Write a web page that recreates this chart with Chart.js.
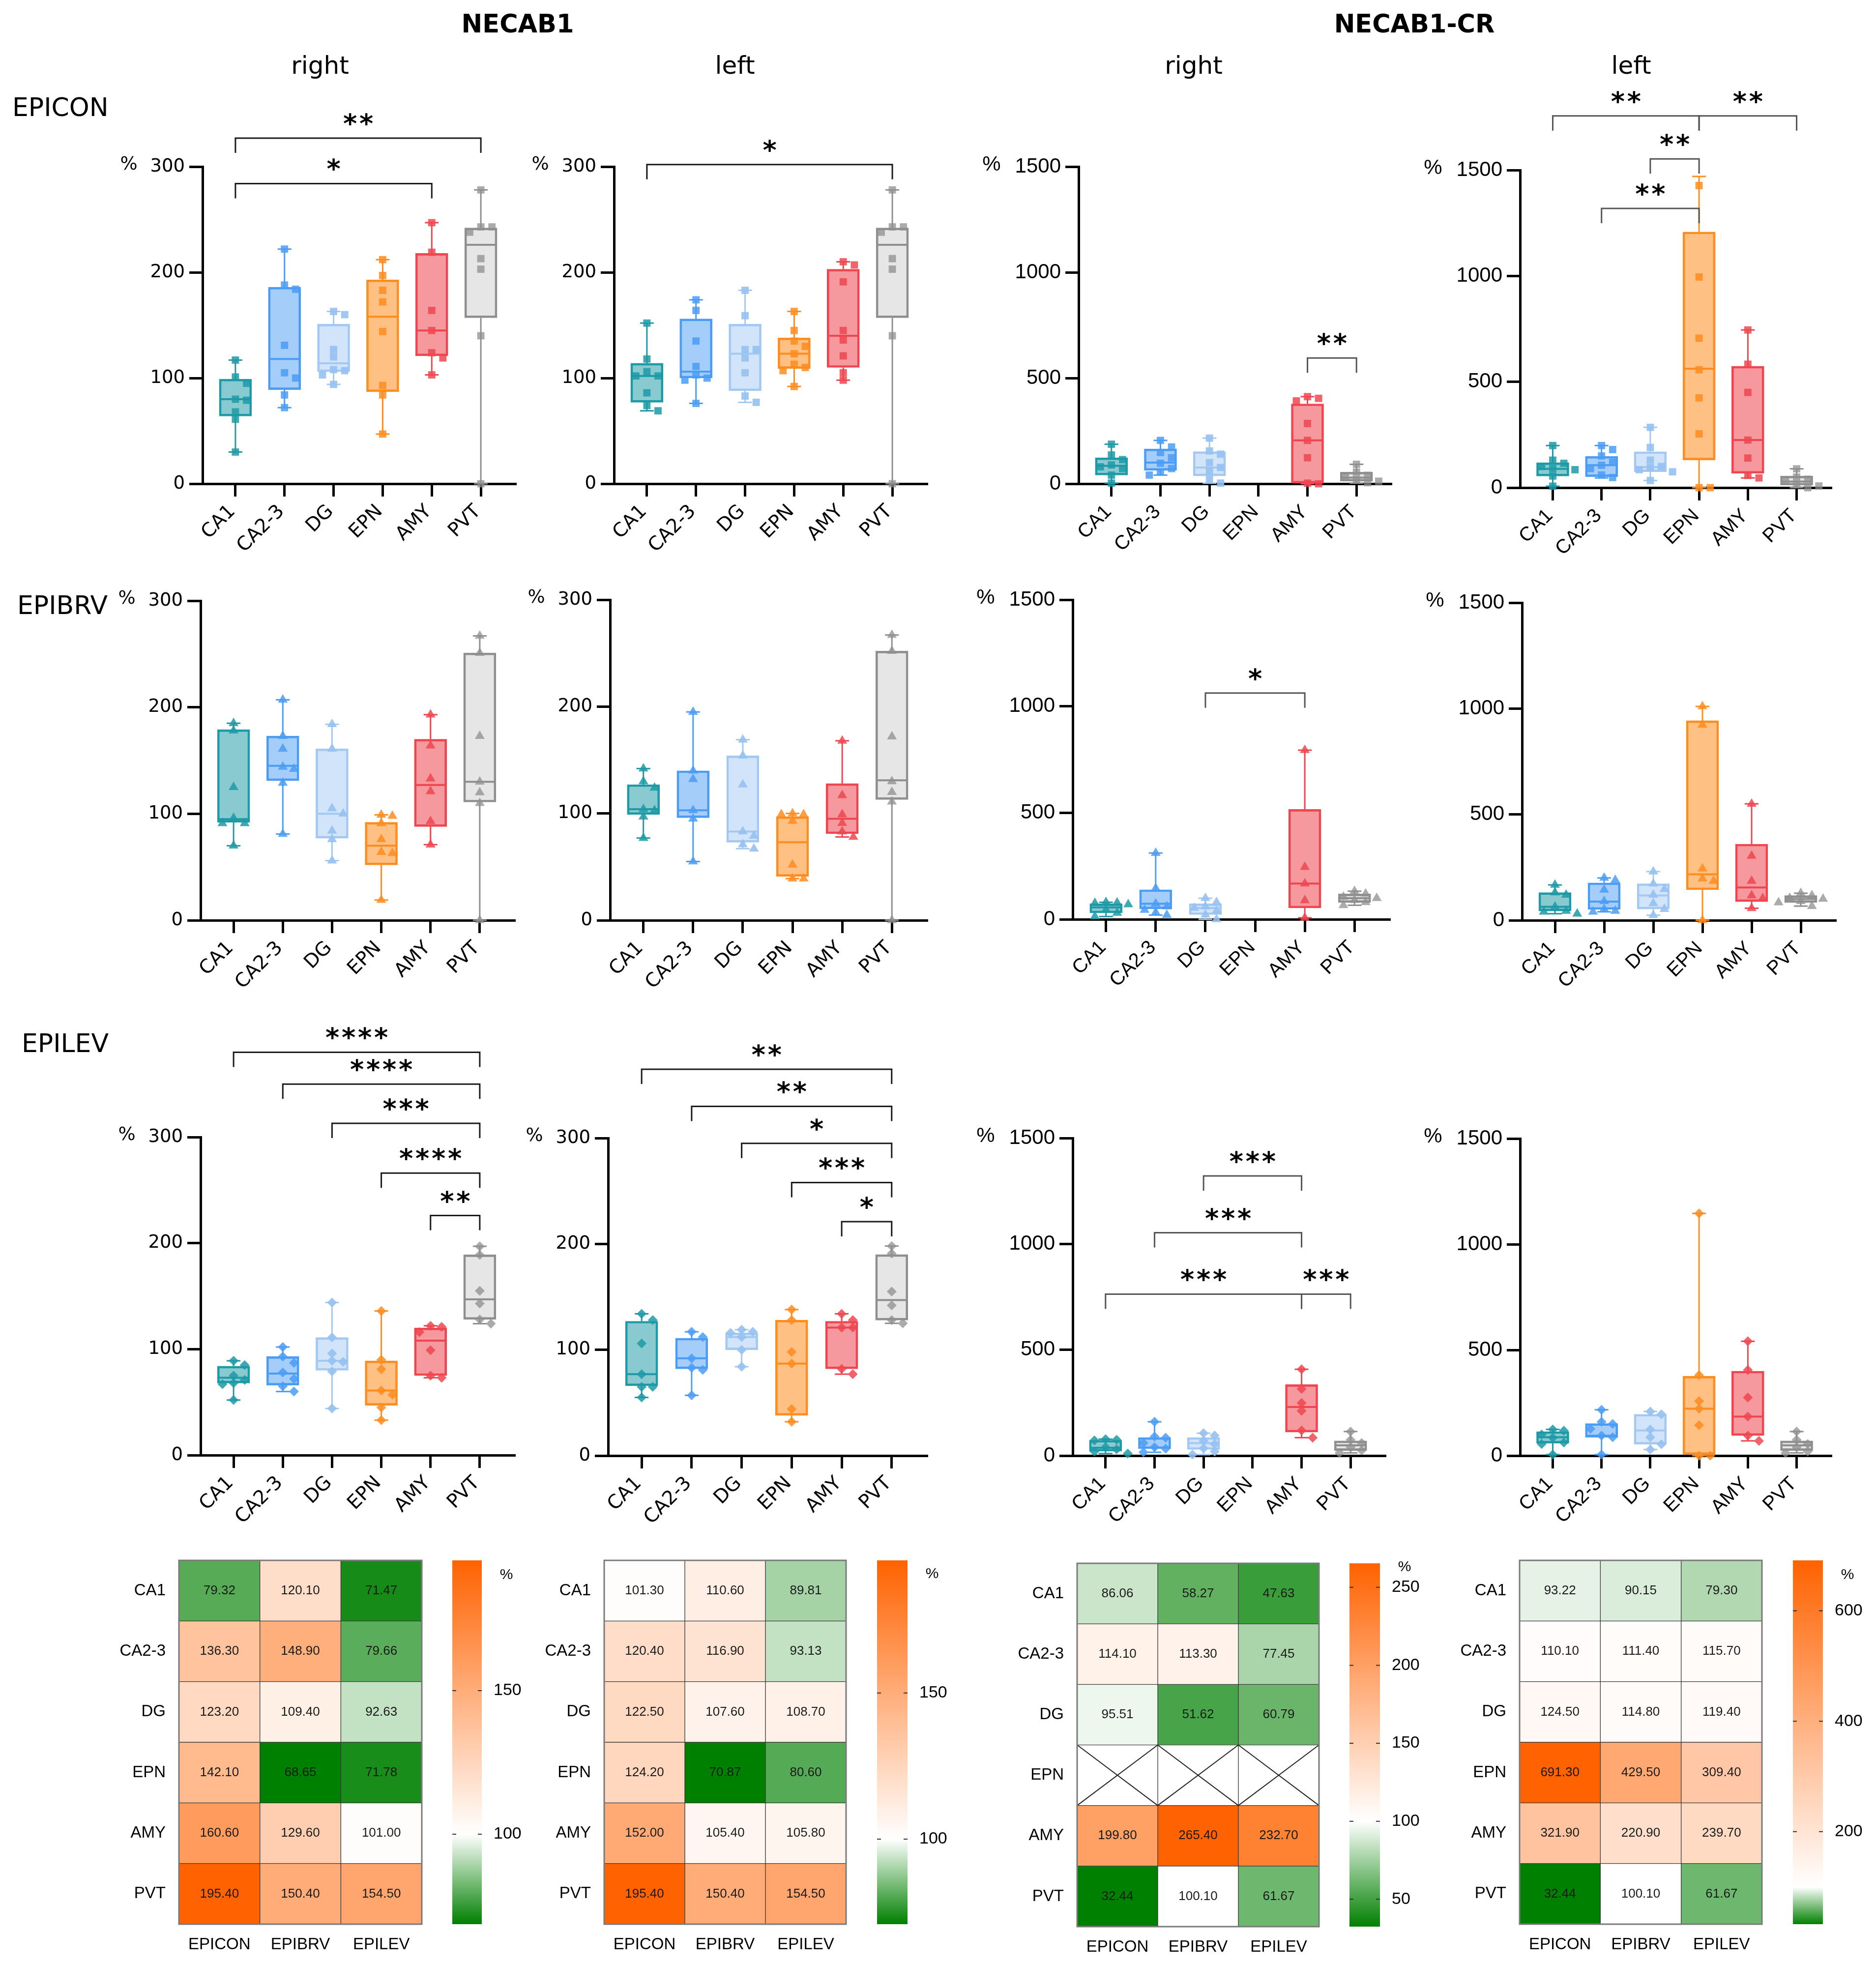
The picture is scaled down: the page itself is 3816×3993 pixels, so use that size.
<!DOCTYPE html>
<html>
<head>
<meta charset="utf-8">
<title>NECAB1 / NECAB1-CR</title>
<script src="https://cdn.jsdelivr.net/npm/chart.js"></script>
<style>
  html, body { margin:0; padding:0; background:#ffffff; }
  body { position:relative; width:3816px; height:3993px; overflow:hidden; }
  canvas { position:absolute; }
  .lbl { position:absolute; white-space:nowrap; color:#000; }
</style>
</head>
<body>
<script>
// ---------------- categories and tick labels ----------------
const regions = ['CA1', 'CA2-3', 'DG', 'EPN', 'AMY', 'PVT'];
const conditions = ['EPICON', 'EPIBRV', 'EPILEV'];
const ticks300 = [0, 100, 200, 300];
const ticks1500 = [0, 500, 1000, 1500];

// ---------------- box plots: [min, q1, median, q3, max] per region ----------------
// NECAB1 right, EPICON
const p11Box = [[30,64,80,99,117],[72,89,118,186,222],[94,106,114,151,163],[47,87,158,193,212],[103,121,145,218,247],[0,157,226,242,278]];
const p11Pts = [[117,101,95,80,79,68,61,30],[222,188,184,131,105,100,84,72],[163,160,127,120,108,107,103,94],[212,197,183,172,144,93,84,47],[247,219,164,145,124,119,103],[278,243,243,238,213,203,140,0]];
const p11Sig = [[0,5,'**'],[0,4,'*']];
const p11Lvl = [327,284];
// NECAB1 left, EPICON
const p12Box = [[69,77,102,114,152],[76,100,106,156,174],[77,88,123,151,183],[92,109,123,138,163],[98,110,140,203,210],[0,157,226,242,278]];
const p12Pts = [[152,118,106,102,102,86,74,69],[174,164,135,111,103,100,98,76],[183,159,127,127,119,105,83,77],[163,145,135,130,123,113,110,107,92],[210,207,191,145,136,121,105,98],[278,243,243,238,213,203,140,0]];
const p12Sig = [[0,5,'*']];
const p12Lvl = [302];
// NECAB1-CR right, EPICON
const p13Box = [[3,41,85,123,187],[41,63,100,165,205],[3,37,77,152,216],null,[0,3,205,378,412],[3,12,29,55,92]];
const p13Pts = [[187,136,114,89,80,72,41,3],[205,174,148,123,97,72,55,41],[216,155,140,100,77,60,20,3],[],[412,404,392,285,205,123,3,0],[92,55,40,30,20,12,5]];
const p13Sig = [[4,5,'**']];
const p13Lvl = [595];
// NECAB1-CR left, EPICON
const p14Box = [[7,55,89,118,199],[46,52,106,148,199],[34,75,97,170,285],[0,131,562,1208,1470],[46,68,225,574,745],[0,12,29,55,89]];
const p14Pts = [[199,130,115,100,90,85,55,7],[199,180,150,120,106,90,60,48],[285,190,130,100,95,85,75,34],[1427,995,706,557,424,254,0,0],[745,583,450,225,140,58,46],[89,50,40,30,15,8,0]];
const p14Sig = [[0,3,'**'],[3,5,'**'],[2,3,'**'],[1,3,'**']];
const p14Lvl = [1756,1756,1553,1319];
// NECAB1 right, EPIBRV
const p21Box = [[70,92,95,179,185],[81,131,145,173,207],[56,77,100,161,184],[19,52,70,92,99],[71,88,127,170,193],[0,111,130,251,267]];
const p21Pts = [[185,178,125,96,91,91,70],[207,173,161,144,142,129,81],[184,161,105,100,84,76,56],[99,98,91,76,64,63,19],[193,164,133,121,93,71],[267,251,173,130,120,110,0]];
const p21Sig = [];
const p21Lvl = [];
// NECAB1 left, EPIBRV
const p22Box = [[77,99,104,127,142],[55,96,103,140,195],[67,73,83,154,169],[39,41,73,97,100],[78,81,95,128,168],[0,113,131,252,267]];
const p22Pts = [[142,130,124,104,103,97,77],[195,140,132,103,95,55],[169,154,127,83,79,71,67],[100,99,99,93,52,39,39],[168,117,99,91,83,78],[267,252,172,130,120,111,0]];
const p22Sig = [];
const p22Lvl = [];
// NECAB1-CR right, EPIBRV
const p23Box = [[13,30,56,73,80],[20,49,73,139,311],[0,22,53,73,99],null,[7,53,168,516,794],[66,79,99,119,132]];
const p23Pts = [[80,78,76,70,45,30,13],[311,146,73,60,44,33,20],[99,80,60,53,40,22,0],[],[794,245,168,89,7],[132,120,105,99,90,80,66]];
const p23Sig = [[2,4,'*']];
const p23Lvl = [1062];
// NECAB1-CR left, EPIBRV
const p24Box = [[31,44,64,131,167],[40,51,88,177,200],[24,53,117,173,230],[0,144,217,943,1010],[57,88,155,360,550],[67,84,101,117,128]];
const p24Pts = [[167,131,120,64,44,40,31],[200,190,144,90,53,44,40],[230,173,147,120,80,53,24],[1010,923,244,197,186,0],[550,304,186,117,104,57],[128,117,105,101,90,84,67]];
const p24Sig = [];
const p24Lvl = [];
// NECAB1 right, EPILEV
const p31Box = [[52,68,73,84,89],[60,66,77,93,102],[44,80,89,111,144],[33,47,61,89,136],[73,75,108,120,122],[124,128,147,189,197]];
const p31Pts = [[89,85,75,71,68,67,52],[102,93,87,78,72,65,60],[144,111,96,89,88,79,44],[136,90,81,61,57,45,33],[122,121,116,99,75,73],[197,189,155,143,128,124]];
const p31Sig = [[0,5,'****'],[1,5,'****'],[2,5,'***'],[3,5,'****'],[4,5,'**']];
const p31Lvl = [380,350,313,266,226];
// NECAB1 left, EPILEV
const p32Box = [[55,66,77,127,134],[57,82,92,111,117],[84,100,112,116,119],[32,38,87,128,138],[77,82,121,127,134],[125,128,147,190,198]];
const p32Pts = [[134,128,106,77,65,65,55],[117,112,92,83,81,57],[119,117,116,112,100,84],[138,128,98,87,44,32],[134,128,121,121,82,77],[198,191,155,142,128,125]];
const p32Sig = [[0,5,'**'],[1,5,'**'],[2,5,'*'],[3,5,'***'],[4,5,'*']];
const p32Lvl = [365,330,295,258,221];
// NECAB1-CR right, EPILEV
const p33Box = [[10,21,37,73,78],[16,33,37,86,160],[5,29,59,86,106],null,[85,111,230,336,408],[13,24,49,70,114]];
const p33Pts = [[78,75,72,40,30,20,10],[160,90,85,60,40,33,16],[106,95,70,55,35,20,5],[],[408,315,249,212,119,85],[114,75,60,40,25,13]];
const p33Sig = [[2,4,'***'],[1,4,'***'],[0,4,'***'],[4,5,'***']];
const p33Lvl = [1321,1053,763,763];
// NECAB1-CR left, EPILEV
const p34Box = [[5,59,87,114,124],[5,87,95,152,217],[29,54,119,196,209],[0,0,222,376,1146],[70,95,185,400,541],[13,24,49,70,114]];
const p34Pts = [[124,118,100,85,62,55,5],[217,160,150,127,95,87,5],[209,196,124,87,54,29],[1146,381,258,222,144,0,0],[541,405,275,185,95,70],[114,75,55,40,20,13]];
const p34Sig = [];
const p34Lvl = [];

// ---------------- heat maps (mean %, rows = regions) ----------------
const h1Con = [79.32, 136.30, 123.20, 142.10, 160.60, 195.40];
const h1Brv = [120.10, 148.90, 109.40, 68.65, 129.60, 150.40];
const h1Lev = [71.47, 79.66, 92.63, 71.78, 101.00, 154.50];
const h2Con = [101.30, 120.40, 122.50, 124.20, 152.00, 195.40];
const h2Brv = [110.60, 116.90, 107.60, 70.87, 105.40, 150.40];
const h2Lev = [89.81, 93.13, 108.70, 80.60, 105.80, 154.50];
const h3Con = [86.06, 114.10, 95.51, null, 199.80, 32.44];
const h3Brv = [58.27, 113.30, 51.62, null, 265.40, 100.10];
const h3Lev = [47.63, 77.45, 60.79, null, 232.70, 61.67];
const h4Con = [93.22, 110.10, 124.50, 691.30, 321.90, 32.44];
const h4Brv = [90.15, 111.40, 114.80, 429.50, 220.90, 100.10];
const h4Lev = [79.30, 115.70, 119.40, 309.40, 239.70, 61.67];
const h1Ticks = [100, 150];
const h2Ticks = [100, 150];
const h3Ticks = [50, 100, 150, 200, 250];
const h4Ticks = [200, 400, 600];

// ---------------- styles ----------------
const DEJA = "'DejaVu Sans', Verdana, sans-serif";
const LIB = "'Liberation Sans', Arial, sans-serif";
Chart.defaults.font.family = LIB;
const regionLine = ['#1d9aa6', '#4b9cf5', '#a3c9f3', '#ff8c1f', '#ee4650', '#8f8f8f'];
const regionFill = ['rgba(29,154,166,0.52)', 'rgba(75,156,245,0.5)', 'rgba(163,201,243,0.5)', 'rgba(255,140,31,0.55)', 'rgba(238,70,80,0.55)', 'rgba(143,143,143,0.22)'];
const regionDot = ['rgba(29,154,166,0.85)', 'rgba(75,156,245,0.85)', 'rgba(150,193,241,0.9)', 'rgba(255,140,31,0.85)', 'rgba(238,70,80,0.85)', 'rgba(143,143,143,0.75)'];
const markerStyle = ['rect', 'triangle', 'rectRot'];
const markerRadius = [10.5, 11.5, 10];
const GREEN = [0, 128, 0], ORANGE = [255, 98, 0];

// panel placement (chart area in page pixels)
const panels = [
  { box:p11Box, pts:p11Pts, sig:p11Sig, lvl:p11Lvl, cond:0, yTicks:ticks300,  grp:0, left:412,  right:1059, top:339,  bottom:984 },
  { box:p12Box, pts:p12Pts, sig:p12Sig, lvl:p12Lvl, cond:0, yTicks:ticks300,  grp:0, left:1249, right:1896, top:339,  bottom:984 },
  { box:p13Box, pts:p13Pts, sig:p13Sig, lvl:p13Lvl, cond:0, yTicks:ticks1500, grp:1, left:2194, right:2840, top:339,  bottom:984 },
  { box:p14Box, pts:p14Pts, sig:p14Sig, lvl:p14Lvl, cond:0, yTicks:ticks1500, grp:1, left:3092, right:3735, top:346,  bottom:992 },
  { box:p21Box, pts:p21Pts, sig:p21Sig, lvl:p21Lvl, cond:1, yTicks:ticks300,  grp:0, left:408,  right:1057, top:1222, bottom:1872 },
  { box:p22Box, pts:p22Pts, sig:p22Sig, lvl:p22Lvl, cond:1, yTicks:ticks300,  grp:0, left:1241, right:1896, top:1220, bottom:1872 },
  { box:p23Box, pts:p23Pts, sig:p23Sig, lvl:p23Lvl, cond:1, yTicks:ticks1500, grp:1, left:2182, right:2837, top:1220, bottom:1870 },
  { box:p24Box, pts:p24Pts, sig:p24Sig, lvl:p24Lvl, cond:1, yTicks:ticks1500, grp:1, left:3096, right:3744, top:1226, bottom:1872 },
  { box:p31Box, pts:p31Pts, sig:p31Sig, lvl:p31Lvl, cond:2, yTicks:ticks300,  grp:0, left:408,  right:1057, top:2313, bottom:2960 },
  { box:p32Box, pts:p32Pts, sig:p32Sig, lvl:p32Lvl, cond:2, yTicks:ticks300,  grp:0, left:1237, right:1896, top:2315, bottom:2961 },
  { box:p33Box, pts:p33Pts, sig:p33Sig, lvl:p33Lvl, cond:2, yTicks:ticks1500, grp:1, left:2182, right:2828, top:2315, bottom:2961 },
  { box:p34Box, pts:p34Pts, sig:p34Sig, lvl:p34Lvl, cond:2, yTicks:ticks1500, grp:1, left:3092, right:3735, top:2316, bottom:2961 }
];
const heatmaps = [
  { vals:[h1Con, h1Brv, h1Lev], ticks:h1Ticks, left:364,  right:858,  top:3174, bottom:3914, cbL:920,  cbR:980,  pctDy:30 },
  { vals:[h2Con, h2Brv, h2Lev], ticks:h2Ticks, left:1229, right:1721, top:3174, bottom:3914, cbL:1784, cbR:1846, pctDy:28 },
  { vals:[h3Con, h3Brv, h3Lev], ticks:h3Ticks, left:2191, right:2683, top:3180, bottom:3919, cbL:2745, cbR:2807, pctDy:8 },
  { vals:[h4Con, h4Brv, h4Lev], ticks:h4Ticks, left:3091, right:3584, top:3174, bottom:3914, cbL:3647, cbR:3708, pctDy:30 }
];
const X_MIN = -0.67, X_MAX = 5.7;

// ---------------- helpers ----------------
function addText(txt, x, baseline, size, family, weight, align) {
  const d = document.createElement('div');
  d.className = 'lbl';
  d.textContent = txt;
  d.style.font = (weight || 'normal') + ' ' + size + 'px ' + family;
  d.style.lineHeight = size + 'px';
  d.style.top = (baseline - 0.846 * size) + 'px';
  d.style.left = x + 'px';
  if (align === 'center') d.style.transform = 'translateX(-50%)';
  document.body.appendChild(d);
}
function makeCanvas(left, top, w, h) {
  const cv = document.createElement('canvas');
  cv.width = Math.round(w); cv.height = Math.round(h);
  cv.style.left = Math.round(left) + 'px'; cv.style.top = Math.round(top) + 'px';
  cv.style.width = Math.round(w) + 'px'; cv.style.height = Math.round(h) + 'px';
  document.body.appendChild(cv);
  return cv;
}
// deterministic dot arrangement so that overlapping dots sit side by side
function swarm(vals, ci, unitsPerPxY, unitsPerPxX) {
  const sepY = 15 * unitsPerPxY, stepX = 23 * unitsPerPxX;
  const placed = [];
  vals.slice().sort((a, b) => b - a).forEach(v => {
    let off = 0;
    for (let k = 0; k < 12; k++) {
      const cand = k === 0 ? 0 : (k % 2 === 1 ? 1 : -1) * Math.ceil(k / 2) * stepX;
      const clash = placed.some(q => Math.abs(q.off - cand) < stepX * 0.5 && Math.abs(q.v - v) < sepY);
      if (!clash) { off = cand; break; }
    }
    placed.push({ v, off });
  });
  return placed.map(q => ({ x: ci + q.off, y: q.v }));
}
function mix(c, t) {
  t = Math.max(0, Math.min(1, t));
  return 'rgb(' + Math.round(255 + (c[0] - 255) * t) + ',' + Math.round(255 + (c[1] - 255) * t) + ',' + Math.round(255 + (c[2] - 255) * t) + ')';
}
function heatColor(v, mn, mx) {
  if (v == null) return '#ffffff';
  return v < 100 ? mix(GREEN, (100 - v) / (100 - mn)) : mix(ORANGE, (v - 100) / (mx - 100));
}

// ---------------- box plot panel ----------------
function drawDecor(ch, P) {
  const { ctx, scales: { x, y } } = ch;
  const fam = P.grp === 0 ? DEJA : LIB;
  const fs = P.grp === 0 ? 37 : 42;
  ctx.save();
  ctx.fillStyle = '#000';
  ctx.font = fs + 'px ' + fam;
  ctx.textAlign = 'center';
  ctx.textBaseline = 'middle';
  ctx.fillText('%', x.left - (P.grp === 0 ? 150 : 177), y.top - 4);
  ctx.strokeStyle = P.grp === 0 ? '#1a1a1a' : '#555555';
  ctx.lineWidth = 3;
  P.sig.forEach((s, k) => {
    const xa = x.getPixelForValue(s[0]), xb = x.getPixelForValue(s[1]);
    const yl = y.getPixelForValue(P.lvl[k]);
    ctx.beginPath();
    ctx.moveTo(xa, yl + 30); ctx.lineTo(xa, yl); ctx.lineTo(xb, yl); ctx.lineTo(xb, yl + 30);
    ctx.stroke();
    const n = s[2].length, cx = (xa + xb) / 2;
    ctx.font = 'bold 54px ' + DEJA;
    ctx.textBaseline = 'alphabetic';
    ctx.fillStyle = '#000';
    for (let i = 0; i < n; i++) ctx.fillText('*', cx + (i - (n - 1) / 2) * 33, yl - 40 + 29);
  });
  ctx.restore();
}

function makeBoxPanel(P) {
  const padL = 220, padR = 24, padT = 330, xH = 175, yW = 140;
  const cv = makeCanvas(P.left - padL, P.top - padT, P.right - P.left + padL + padR, P.bottom - P.top + padT + xH);
  const yMax = P.yTicks[P.yTicks.length - 1];
  const upyY = yMax / (P.bottom - P.top);
  const upxX = (X_MAX - X_MIN) / (P.right - P.left);
  const fam = P.grp === 0 ? DEJA : LIB;
  const yFs = P.grp === 0 ? 37 : 42, xFs = P.grp === 0 ? 39 : 40;

  const dots = [], dotCol = [];
  P.pts.forEach((vals, ci) => swarm(vals, ci, upyY, upxX).forEach(p => { dots.push(p); dotCol.push(regionDot[ci]); }));
  const meds = [], medCol = [], caps = [], capCol = [], boxes = [], boxFillC = [], boxLineC = [];
  const datasets = [];
  P.box.forEach((b, ci) => {
    if (!b) return;
    meds.push({ x: ci, y: b[2] }); medCol.push(regionLine[ci]);
    caps.push({ x: ci, y: b[0] }, { x: ci, y: b[4] }); capCol.push(regionLine[ci], regionLine[ci]);
    boxes.push({ x: ci, y: [b[1], b[3]] }); boxFillC.push(regionFill[ci]); boxLineC.push(regionLine[ci]);
    datasets.push({
      type: 'line', order: 6, clip: false,
      data: [{ x: ci, y: b[4] }, { x: ci, y: b[3] }, { x: ci, y: null }, { x: ci, y: b[1] }, { x: ci, y: b[0] }],
      borderColor: regionLine[ci], borderWidth: 3, pointRadius: 0, spanGaps: false, fill: false
    });
  });
  datasets.push({ type: 'bar', order: 5, clip: false, data: boxes, backgroundColor: boxFillC, borderColor: boxLineC,
                  borderWidth: 4, borderSkipped: false, barThickness: 66 });
  datasets.push({ type: 'scatter', order: 4, clip: false, data: meds, pointStyle: 'line', pointRadius: 31,
                  pointBorderColor: medCol, pointBorderWidth: 4, pointBackgroundColor: medCol });
  datasets.push({ type: 'scatter', order: 3, clip: false, data: caps, pointStyle: 'line', pointRadius: 14,
                  pointBorderColor: capCol, pointBorderWidth: 3, pointBackgroundColor: capCol });
  datasets.push({ type: 'scatter', order: 1, clip: false, data: dots, pointStyle: markerStyle[P.cond],
                  pointRadius: markerRadius[P.cond], pointBackgroundColor: dotCol, pointBorderWidth: 0 });

  new Chart(cv, {
    type: 'bar',
    data: { datasets },
    options: {
      responsive: false, animation: false, devicePixelRatio: 1, events: [],
      layout: { padding: { left: padL - yW, right: padR, top: padT, bottom: 0 } },
      plugins: { legend: { display: false }, tooltip: { enabled: false } },
      scales: {
        x: {
          type: 'linear', min: X_MIN, max: X_MAX, offset: false,
          afterBuildTicks: s => { s.ticks = regions.map((_, i) => ({ value: i })); },
          afterFit: s => { s.height = xH; },
          grid: { display: true, drawOnChartArea: false, drawTicks: true, tickLength: 26, color: '#000', lineWidth: 5, offset: false },
          border: { display: true, color: '#000', width: 5 },
          ticks: { autoSkip: false, minRotation: 45, maxRotation: 45, padding: 8, labelOffset: -6, color: '#000',
                   font: { family: fam, size: xFs }, callback: v => regions[v] }
        },
        y: {
          type: 'linear', min: 0, max: yMax,
          afterBuildTicks: s => { s.ticks = P.yTicks.map(v => ({ value: v })); },
          afterFit: s => { s.width = yW; },
          grid: { display: true, drawOnChartArea: false, drawTicks: true, tickLength: 27, color: '#000', lineWidth: 5 },
          border: { display: true, color: '#000', width: 5 },
          ticks: { padding: 9, color: '#000', font: { family: fam, size: yFs }, callback: v => String(v) }
        }
      }
    },
    plugins: [{ id: 'deco', afterDraw: ch => drawDecor(ch, P) }]
  });
}

// ---------------- heat map + colour bar ----------------
function drawCells(ch, H) {
  const ctx = ch.ctx;
  ctx.save();
  ctx.font = '26px ' + LIB;
  ctx.textAlign = 'center';
  ctx.textBaseline = 'middle';
  ch.data.datasets.forEach((ds, j) => {
    ch.getDatasetMeta(j).data.forEach((bar, i) => {
      const p = bar.getProps(['x', 'y', 'base', 'height'], true);
      const v = H.vals[j][i];
      const x0 = Math.min(p.x, p.base), x1 = Math.max(p.x, p.base);
      const y0 = p.y - p.height / 2, y1 = p.y + p.height / 2;
      if (v == null) {
        ctx.strokeStyle = '#222'; ctx.lineWidth = 2;
        ctx.beginPath(); ctx.moveTo(x0, y0); ctx.lineTo(x1, y1); ctx.moveTo(x1, y0); ctx.lineTo(x0, y1); ctx.stroke();
      } else {
        ctx.fillStyle = '#1a1a1a';
        ctx.fillText(v.toFixed(2), (x0 + x1) / 2, p.y);
      }
    });
  });
  const a = ch.chartArea;
  ctx.strokeStyle = '#7a7a7a'; ctx.lineWidth = 3;
  ctx.strokeRect(a.left, a.top, a.right - a.left, a.bottom - a.top);
  ctx.restore();
}
function gradientFor(chart, mn, mx) {
  const ys = chart.scales && chart.scales.y;
  if (!chart.chartArea || !ys) return '#ffffff';
  const y0 = ys.getPixelForValue(mn), y1 = ys.getPixelForValue(mx);
  if (!isFinite(y0) || !isFinite(y1)) return '#ffffff';
  const g = chart.ctx.createLinearGradient(0, y0, 0, y1);
  g.addColorStop(0, mix(GREEN, 1));
  g.addColorStop((100 - mn) / (mx - mn), '#ffffff');
  g.addColorStop(1, mix(ORANGE, 1));
  return g;
}
function makeColorbar(H, mn, mx) {
  const yW = 130, pad = 60;
  const cv = makeCanvas(H.cbL, H.top - pad, H.cbR - H.cbL + yW, H.bottom - H.top + 2 * pad);
  new Chart(cv, {
    type: 'bar',
    data: { labels: ['%'], datasets: [{ data: [[mn, mx]], backgroundColor: c => gradientFor(c.chart, mn, mx),
                                        borderWidth: 0, barPercentage: 1, categoryPercentage: 1 }] },
    options: {
      responsive: false, animation: false, devicePixelRatio: 1, events: [],
      layout: { padding: { top: pad, bottom: pad, left: 0, right: 0 } },
      plugins: { legend: { display: false }, tooltip: { enabled: false } },
      scales: {
        x: { display: false },
        y: {
          position: 'right', min: mn, max: mx,
          afterBuildTicks: s => { s.ticks = H.ticks.map(v => ({ value: v })); },
          afterFit: s => { s.width = yW; },
          grid: { display: false, drawTicks: false }, border: { display: false },
          ticks: { padding: 24, color: '#000', font: { family: LIB, size: 34 }, callback: v => String(v) }
        }
      }
    },
    plugins: [{ id: 'cbdeco', afterDraw: ch => {
      const { ctx, chartArea: a, scales: { y } } = ch;
      ctx.save();
      ctx.strokeStyle = '#333'; ctx.lineWidth = 2;
      H.ticks.forEach(v => {
        const py = y.getPixelForValue(v);
        ctx.beginPath();
        ctx.moveTo(a.left, py); ctx.lineTo(a.left + 8, py);
        ctx.moveTo(a.right - 8, py); ctx.lineTo(a.right, py);
        ctx.stroke();
      });
      ctx.fillStyle = '#000'; ctx.font = '30px ' + LIB; ctx.textAlign = 'center'; ctx.textBaseline = 'middle';
      ctx.fillText('%', a.right + 50, a.top + H.pctDy);
      ctx.restore();
    } }]
  });
}
function makeHeat(H) {
  const yW = 150, padT = 60, padR = 50, xH = 90;
  const cv = makeCanvas(H.left - yW, H.top - padT, H.right - H.left + yW + padR, H.bottom - H.top + padT + xH);
  const all = H.vals.flat().filter(v => v != null);
  const mn = Math.min(...all), mx = Math.max(...all);
  const datasets = conditions.map((c, j) => ({
    label: c, data: regions.map(() => 1),
    backgroundColor: H.vals[j].map(v => heatColor(v, mn, mx)),
    borderColor: '#3a3a3a', borderWidth: 1, borderSkipped: false, barPercentage: 1, categoryPercentage: 1
  }));
  new Chart(cv, {
    type: 'bar',
    data: { labels: regions, datasets },
    options: {
      indexAxis: 'y', responsive: false, animation: false, devicePixelRatio: 1, events: [],
      layout: { padding: { left: 0, top: padT, right: padR, bottom: 0 } },
      plugins: { legend: { display: false }, tooltip: { enabled: false } },
      scales: {
        x: {
          type: 'linear', stacked: true, min: 0, max: 3,
          afterBuildTicks: s => { s.ticks = conditions.map((_, j) => ({ value: j + 0.5 })); },
          afterFit: s => { s.height = xH; },
          grid: { display: false, drawTicks: false }, border: { display: false },
          ticks: { padding: 22, color: '#000', font: { family: LIB, size: 33 }, callback: v => conditions[Math.floor(v)] }
        },
        y: {
          type: 'category', stacked: true,
          afterFit: s => { s.width = yW; },
          grid: { display: false, drawTicks: false }, border: { display: false },
          ticks: { padding: 27, color: '#000', font: { family: LIB, size: 33 } }
        }
      }
    },
    plugins: [{ id: 'cells', afterDatasetsDraw: ch => drawCells(ch, H) }]
  });
  makeColorbar(H, mn, mx);
}

// ---------------- titles ----------------
addText('NECAB1', 1053, 66, 51, DEJA, 'bold', 'center');
addText('NECAB1-CR', 2877, 66, 51, DEJA, 'bold', 'center');
addText('right', 651, 150, 50, DEJA, 'normal', 'center');
addText('left', 1495, 150, 50, DEJA, 'normal', 'center');
addText('right', 2428, 150, 50, DEJA, 'normal', 'center');
addText('left', 3318, 150, 50, DEJA, 'normal', 'center');
addText('EPICON', 25, 236, 52, DEJA, 'normal', 'left');
addText('EPIBRV', 35, 1249, 52, DEJA, 'normal', 'left');
addText('EPILEV', 44, 2140, 52, DEJA, 'normal', 'left');

panels.forEach(makeBoxPanel);
heatmaps.forEach(makeHeat);
</script>
</body>
</html>
